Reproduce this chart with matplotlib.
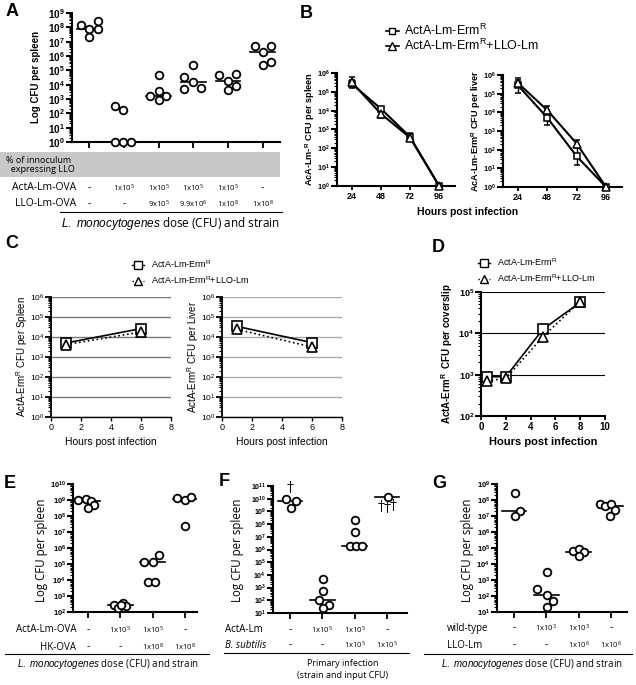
import matplotlib
matplotlib.use("Agg")
import matplotlib.pyplot as plt
import numpy as np
from matplotlib import ticker, transforms
from matplotlib.lines import Line2D
from matplotlib.patches import Rectangle

plt.rcParams['font.family'] = ['Liberation Sans', 'DejaVu Sans']
plt.rcParams['mathtext.fontset'] = 'custom'
plt.rcParams['mathtext.rm'] = 'Liberation Sans'
plt.rcParams['mathtext.it'] = 'Liberation Sans:italic'
plt.rcParams['mathtext.bf'] = 'Liberation Sans:bold'
plt.rcParams['mathtext.default'] = 'regular'

# ---------------- data (log10 CFU) ----------------
# A
a_vals = [[8.18, 7.88, 7.30, 7.88, 8.41],
          [2.54, 2.24, 0, 0, 0],
          [4.69, 3.59, 3.24, 2.94, 3.24],
          [5.34, 4.52, 4.22, 3.68, 3.75],
          [4.66, 4.29, 4.76, 3.64, 3.94],
          [6.67, 6.25, 6.67, 5.36, 5.59]]
a_pct = ["", "100%", "10%", "1%", "0.1%", "0%"]
a_acta = ["-", "1x10$^5$", "1x10$^5$", "1x10$^5$", "1x10$^5$", "-"]
a_llo = ["-", "-", "9x10$^5$", "9.9x10$^6$", "1x10$^8$", "1x10$^8$"]

# B
b_hours = [24, 48, 72, 96]
b_spl_sq = [5.43, 4.11, 2.61, 0]
b_spl_sq_err = [0.2, 0.1, 0.2, 0]
b_spl_tri = [5.52, 3.84, 2.57, 0]
b_spl_tri_err = [0.25, 0.25, 0.2, 0]
b_liv_sq = [5.46, 3.72, 1.65, 0]
b_liv_sq_err = [0.4, 0.4, 0.45, 0]
b_liv_tri = [5.58, 4.12, 2.33, 0]
b_liv_tri_err = [0.15, 0.2, 0.2, 0]

# C
c_hours = [1, 6]
c_spl_sq = [3.70, 4.42]
c_spl_tri = [3.62, 4.25]
c_liv_sq = [4.53, 3.72]
c_liv_tri = [4.38, 3.50]

# D
d_hours = [0.5, 2, 5, 8]
d_sq = [2.95, 2.95, 4.10, 4.75]
d_tri = [2.85, 2.91, 3.92, 4.77]

# E
e_vals = [[9.02, 9.08, 8.91, 8.70, 8.49],
          [2.42, 2.59, 2.25, 2.38, 2.46],
          [5.10, 5.10, 5.56, 3.88, 3.88],
          [9.12, 9.02, 9.16, 7.38]]
e_acta = ["-", "1x10$^5$", "1x10$^5$", "-"]
e_hk = ["-", "-", "1x10$^8$", "1x10$^8$"]

# F
f_vals = [[9.95, 9.85, 9.30],
          [3.67, 2.70, 2.02, 1.65, 1.39],
          [8.30, 7.36, 6.30, 6.25, 6.30],
          [10.16]]
f_dead = [[10.82], [], [], [9.38, 9.25, 9.43]]
f_acta = ["-", "1x10$^5$", "1x10$^5$", "-"]
f_bsub = ["-", "-", "1x10$^5$", "1x10$^5$"]

# G
g_vals = [[8.43, 7.32, 6.97],
          [3.47, 2.42, 2.05, 1.67, 1.31],
          [4.81, 4.91, 4.73, 4.50],
          [7.74, 7.60, 7.74, 7.35, 6.97]]
g_wt = ["-", "1x10$^3$", "1x10$^3$", "-"]
g_llo = ["-", "-", "1x10$^6$", "1x10$^6$"]

# horizontal spread of the dots (fraction of group spacing)
a_dx = [[-0.24, 0, 0, 0.24, 0.24], [-0.26, -0.03, -0.26, -0.03, 0.21],
        [0, 0, -0.24, 0, 0.22], [0, -0.26, 0, -0.26, 0.22],
        [-0.27, 0, 0.22, 0, 0.22], [-0.23, 0, 0.24, 0, 0.24]]
e_dx = [[-0.31, -0.07, 0.1, 0.2, 0], [-0.18, 0.08, -0.07, 0.18, 0.03],
        [-0.27, 0, 0.2, -0.13, 0.07], [-0.26, 0, 0.18, 0]]
f_dx = [[-0.12, 0.19, 0.03], [0.03, 0.03, -0.12, 0.19, 0.03],
        [0.02, 0.02, -0.15, 0.05, 0.23], [0.03]]
f_dead_dx = [[0], [], [], [-0.18, 0.01, 0.19]]
g_dx = [[0.03, 0.19, 0.03], [0.02, -0.29, 0.02, 0.2, 0.02],
        [-0.18, 0.02, 0.18, 0], [-0.33, -0.18, 0, 0.13, -0.02]]

W, H = 636, 685
fig = plt.figure(figsize=(W / 100, H / 100), dpi=100)


def box(x0, y0, x1, y1):
    return [x0 / W, 1 - y1 / H, (x1 - x0) / W, (y1 - y0) / H]


def ftxt(x, y, s, **kw):
    return fig.text(x / W, 1 - y / H, s, **kw)


def logstyle(ax, lo, hi, size=6.5, bold=True, lw=1.5):
    ax.set_yscale('log')
    ax.set_ylim(10.0 ** lo, 10.0 ** hi)
    dec = np.arange(lo, hi + 1)
    ax.yaxis.set_major_locator(ticker.FixedLocator(10.0 ** dec))
    minors = [m * 10.0 ** d for d in dec[:-1] for m in range(2, 10)]
    ax.yaxis.set_minor_locator(ticker.FixedLocator(minors))
    ax.yaxis.set_minor_formatter(ticker.NullFormatter())
    fmt = r'$\mathbf{10^{%d}}$' if bold else r'$10^{%d}$'
    ax.yaxis.set_major_formatter(ticker.FuncFormatter(lambda v, p: fmt % round(np.log10(v))))
    ax.tick_params(axis='y', which='major', length=4, width=lw, labelsize=size, pad=1)
    ax.tick_params(axis='y', which='minor', length=2, width=0.8)
    for s in ['top', 'right']:
        ax.spines[s].set_visible(False)
    for s in ['left', 'bottom']:
        ax.spines[s].set_linewidth(lw)


def dotplot(ax, vals, dx, hw=0.36):
    for i, (v, d) in enumerate(zip(vals, dx)):
        x = i + 1 + np.array(d)
        y = 10.0 ** np.array(v)
        ax.plot(x, y, 'o', mfc='white', mec='black', mew=1.3, ms=5.5, clip_on=False, zorder=3)
        m = 10.0 ** np.median(v)
        ax.plot([i + 1 - hw, i + 1 + hw], [m, m], color='black', lw=1.2, zorder=2)
    ax.set_xticks(range(1, len(vals) + 1))
    ax.tick_params(axis='x', length=4, width=1.3, labelbottom=False)


def table_row(ax, y, labels, size=5.5):
    tr = transforms.blended_transform_factory(ax.transData, fig.transFigure)
    for i, s in enumerate(labels):
        if not s:
            continue
        ax.text(i + 1, 1 - y / H, s, transform=tr, ha='center', va='center',
                fontsize=7.5 if s == "-" else size, family='Open Sans')


def errs(v, e):
    v = np.array(v)
    e = np.array(e)
    return [10 ** v - 10 ** (v - e), 10 ** (v + e) - 10 ** v]


# ---------------- A ----------------
ax = fig.add_axes(box(72, 13, 280, 142))
logstyle(ax, 0, 9, size=7.2)
ax.set_xlim(0.5, 6.5)
dotplot(ax, a_vals, a_dx)
ftxt(36, 77, "Log CFU per spleen", rotation=90, ha='center', va='center',
     fontsize=7, fontweight='bold')
fig.patches.append(Rectangle((0, 1 - 177 / H), 280 / W, 25 / H, transform=fig.transFigure,
                             facecolor='#c8c8c8', edgecolor='none', zorder=0))
ftxt(6, 165, "% of innoculum\n  expressing LLO", ha='left', va='center', fontsize=6.5,
     family='Open Sans', linespacing=1.1)
table_row(ax, 166, a_pct, 5.5)
table_row(ax, 188, a_acta, 5.5)
table_row(ax, 204, a_llo, 5.5)
ftxt(76, 188, "ActA-Lm-OVA", ha='right', va='center', fontsize=7.5, family='Open Sans')
ftxt(76, 204, "LLO-Lm-OVA", ha='right', va='center', fontsize=7.5, family='Open Sans')
fig.add_artist(Line2D([60 / W, 282 / W], [1 - 212 / H] * 2, color='black', lw=0.8))
ftxt(170, 223, r"$\it{L.\ monocytogenes}$ dose (CFU) and strain", ha='center', va='center',
     fontsize=8.5, family='Open Sans')

# ---------------- B ----------------
for bx, sq, sqe, tri, trie, lab, lx in [
        (box(337, 73, 455, 186), b_spl_sq, b_spl_sq_err, b_spl_tri, b_spl_tri_err,
         r"AcA-Lm-$^{\bf R}$ CFU per spleen", 310),
        (box(503, 75, 622, 187), b_liv_sq, b_liv_sq_err, b_liv_tri, b_liv_tri_err,
         r"AcA-Lm-Erm$^{\bf R}$ CFU per liver", 476)]:
    ax = fig.add_axes(bx)
    logstyle(ax, 0, 6, size=5.2)
    ax.set_xlim(12, 109)
    ax.set_xticks(b_hours)
    ax.tick_params(axis='x', length=3, width=1.3, labelsize=6.5, pad=1)
    for t in ax.get_xticklabels():
        t.set_fontweight('bold')
    ax.errorbar(b_hours, 10.0 ** np.array(sq), yerr=errs(sq, sqe), color='black', lw=1.5,
                marker='s', mfc='white', mec='black', ms=5, mew=1.1, capsize=2.5,
                elinewidth=1, clip_on=False, zorder=3)
    ax.errorbar(b_hours, 10.0 ** np.array(tri), yerr=errs(tri, trie), color='black', lw=1.5,
                marker='^', mfc='white', mec='black', ms=5.5, mew=1.1, capsize=2.5,
                elinewidth=1, clip_on=False, zorder=3)
    bb = ax.get_position()
    ftxt(lx, 1 * H - (bb.y0 + bb.height / 2) * H, lab, rotation=90, ha='center', va='center',
         fontsize=6.6, fontweight='bold')
ftxt(468, 212, "Hours post infection", ha='center', va='center', fontsize=7.5,
     fontweight='bold')
hb = [Line2D([], [], color='black', lw=1.2, marker='s', mfc='white', mec='black', ms=5),
      Line2D([], [], color='black', lw=1.2, marker='^', mfc='white', mec='black', ms=5.5)]
fig.legend(hb, ["ActA-Lm-Erm$^R$", "ActA-Lm-Erm$^R$+LLO-Lm"], loc='upper left',
           bbox_to_anchor=(386 / W, 1 - 23 / H), frameon=False, fontsize=9,
           handlelength=1.0, handletextpad=0.4, labelspacing=0.0, borderpad=0,
           borderaxespad=0)

# ---------------- C ----------------
for bx, sq, tri, lab, lx, gcol in [
        (box(51, 297, 171, 417), c_spl_sq, c_spl_tri, "ActA-Erm$^R$ CFU per Spleen", 22, '#777777'),
        (box(222, 297, 342, 417), c_liv_sq, c_liv_tri, "ActA-Erm$^R$ CFU per Liver", 193, '#aaaaaa')]:
    ax = fig.add_axes(bx)
    logstyle(ax, 0, 6, size=6, bold=False, lw=1.3)
    ax.spines['bottom'].set_linewidth(1.0)
    ax.set_xlim(0, 8)
    ax.set_xticks([0, 2, 4, 6, 8])
    ax.tick_params(axis='x', length=3, width=1.0, labelsize=6.5, pad=1)
    ax.yaxis.grid(True, which='major', color=gcol, lw=1.0)
    ax.set_axisbelow(True)
    ax.plot(c_hours, 10.0 ** np.array(sq), color='black', lw=1.2, marker='s', mfc='white',
            mec='black', ms=7, mew=1.2, zorder=3)
    ax.plot(c_hours, 10.0 ** np.array(tri), color='black', lw=1.2, ls=':', marker='^',
            mfc='white', mec='black', ms=6.5, mew=1.2, zorder=4)
    ftxt(lx, 357, lab, rotation=90, ha='center', va='center', fontsize=7)
    ftxt((bx[0] + bx[2] / 2) * W, 442, "Hours post infection", ha='center', va='center',
         fontsize=7.5)
hc = [Line2D([], [], color='black', lw=1, marker='s', mfc='white', mec='black', ms=6),
      Line2D([], [], color='black', lw=1, ls=':', marker='^', mfc='white', mec='black', ms=6)]
fig.legend(hc, ["ActA-Lm-Erm$^R$", "ActA-Lm-Erm$^R$+LLO-Lm"], loc='upper left',
           bbox_to_anchor=(132 / W, 1 - 258 / H), frameon=False, fontsize=6.5,
           handlelength=1.3, handletextpad=0.8, labelspacing=0.5, borderpad=0,
           borderaxespad=0)

# ---------------- D ----------------
ax = fig.add_axes(box(481, 292, 605, 416))
logstyle(ax, 2, 5, size=6.5, lw=1.5)
ax.set_xlim(0, 10)
ax.set_xticks([0, 2, 4, 6, 8, 10])
ax.tick_params(axis='x', length=3, width=1.3, labelsize=7, pad=1)
for t in ax.get_xticklabels():
    t.set_fontweight('bold')
ax.yaxis.grid(True, which='major', color='black', lw=0.8)
ax.set_axisbelow(True)
ax.plot(d_hours, 10.0 ** np.array(d_sq), color='black', lw=1.2, marker='s', mfc='white',
        mec='black', ms=7, mew=1.2, zorder=3, clip_on=False)
ax.plot(d_hours, 10.0 ** np.array(d_tri), color='black', lw=1.2, ls=':', marker='^',
        mfc='white', mec='black', ms=6.5, mew=1.2, zorder=4, clip_on=False)
ftxt(447, 354, r"ActA-Erm$^{R}$  CFU per coverslip", rotation=90, ha='center', va='center',
     fontsize=7, fontweight='bold')
ftxt(543, 442, "Hours post infection", ha='center', va='center', fontsize=8,
     fontweight='bold')
fig.legend(hc, ["ActA-Lm-Erm$^R$", "ActA-Lm-Erm$^R$+LLO-Lm"], loc='upper left',
           bbox_to_anchor=(478 / W, 1 - 256 / H), frameon=False, fontsize=6.5,
           handlelength=1.3, handletextpad=0.8, labelspacing=0.5, borderpad=0,
           borderaxespad=0)

# ---------------- E ----------------
ax = fig.add_axes(box(73, 484, 197, 612))
logstyle(ax, 2, 10, size=5.5, lw=1.5)
ax.set_xlim(0.54, 4.37)
dotplot(ax, e_vals, e_dx, hw=0.38)
ftxt(41, 550, "Log CFU per spleen", rotation=90, ha='center', va='center', fontsize=8.3,
     family='Open Sans')
table_row(ax, 630, e_acta, 5.5)
table_row(ax, 647, e_hk, 5.5)
ftxt(76, 630, "ActA-Lm-OVA", ha='right', va='center', fontsize=7, family='Open Sans')
ftxt(76, 647, "HK-OVA", ha='right', va='center', fontsize=7, family='Open Sans')
fig.add_artist(Line2D([5 / W, 209 / W], [1 - 654 / H] * 2, color='black', lw=0.8))
ftxt(108, 664, r"$\it{L.\ monocytogenes}$ dose (CFU) and strain", ha='center', va='center',
     fontsize=7, family='Open Sans')

# ---------------- F ----------------
ax = fig.add_axes(box(273, 486, 407, 613))
logstyle(ax, 1, 11, size=5, lw=1.5)
ax.set_xlim(0.47, 4.62)
dotplot(ax, f_vals, f_dx, hw=0.38)
for i, (v, d) in enumerate(zip(f_dead, f_dead_dx)):
    for vv, dd in zip(v, d):
        ax.text(i + 1 + dd, 10.0 ** vv, "\u2020", ha='center', va='center', fontsize=10,
                family='DejaVu Serif')
ftxt(238, 550, "Log CFU per spleen", rotation=90, ha='center', va='center', fontsize=8.3,
     family='Open Sans')
table_row(ax, 630, f_acta, 5.5)
table_row(ax, 645, f_bsub, 5.5)
ftxt(225, 630, "ActA-Lm", ha='left', va='center', fontsize=7, family='Open Sans')
ftxt(225, 645, "B. subtilis", ha='left', va='center', fontsize=7, family='Open Sans',
     style='italic')
fig.add_artist(Line2D([224 / W, 409 / W], [1 - 653 / H] * 2, color='black', lw=0.8))
ftxt(343, 663, "Primary infection", ha='center', va='center', fontsize=6.5, family='Open Sans')
ftxt(343, 676, "(strain and input CFU)", ha='center', va='center', fontsize=6.5,
     family='Open Sans')

# ---------------- G ----------------
ax = fig.add_axes(box(497, 484, 627, 612))
logstyle(ax, 1, 9, size=5.5, lw=1.5)
ax.set_xlim(0.47, 4.5)
dotplot(ax, g_vals, g_dx, hw=0.38)
ftxt(468, 550, "Log CFU per spleen", rotation=90, ha='center', va='center', fontsize=8.3,
     family='Open Sans')
table_row(ax, 628, g_wt, 5.5)
table_row(ax, 645, g_llo, 5.5)
ftxt(447, 628, "wild-type", ha='left', va='center', fontsize=7, family='Open Sans')
ftxt(447, 645, "LLO-Lm", ha='left', va='center', fontsize=7, family='Open Sans')
fig.add_artist(Line2D([424 / W, 632 / W], [1 - 654 / H] * 2, color='black', lw=0.8))
ftxt(532, 664, r"$\it{L.\ monocytogenes}$ dose (CFU) and strain", ha='center', va='center',
     fontsize=7, family='Open Sans')

# panel letters
for s, x, y in [("A", 6, 12), ("B", 300, 14), ("C", 5, 244), ("D", 432, 248),
                ("E", 4, 484), ("F", 219, 481), ("G", 432, 484)]:
    ftxt(x, y, s, ha='left', va='center', fontsize=13, fontweight='bold')

fig.savefig("out.png", dpi=100)
